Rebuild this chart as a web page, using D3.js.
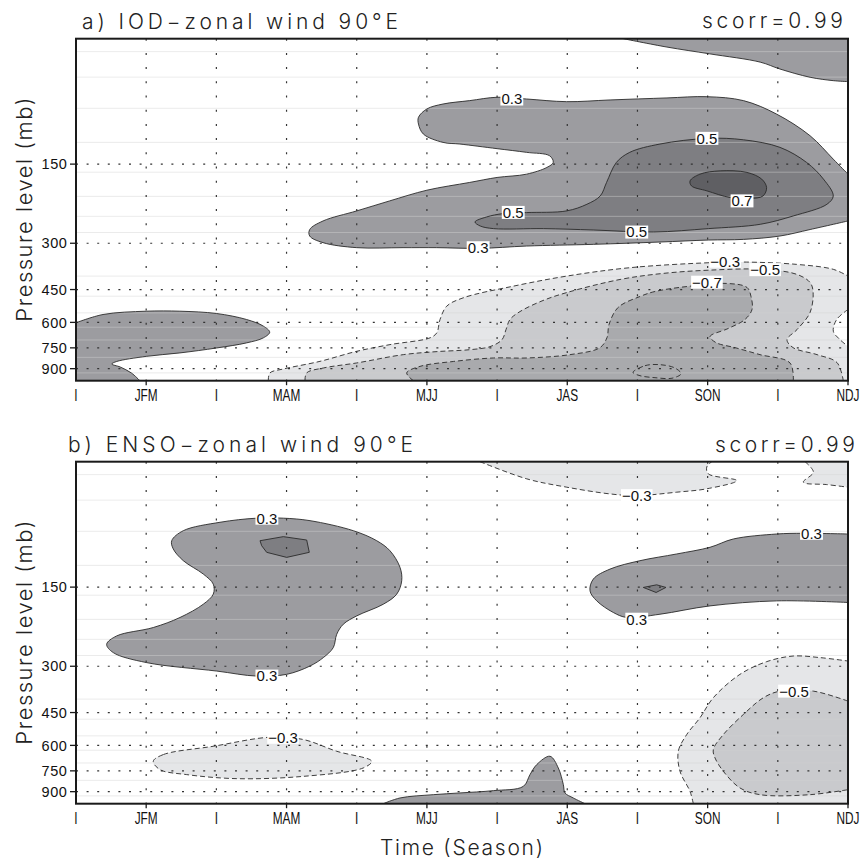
<!DOCTYPE html>
<html><head><meta charset="utf-8">
<script src="https://cdn.jsdelivr.net/npm/d3@7"></script>
<style>body{margin:0;background:#fff}</style>
</head><body>
<svg id="chart" width="865" height="862"></svg>
<script>
// ================= DATA =================
// x: season index (0 = DJF ... 11 = NDJ), y: pressure (mb)
const seasonLabels = ["I","JFM","I","MAM","I","MJJ","I","JAS","I","SON","I","NDJ"];
const pressureTicks = [150, 300, 450, 600, 750, 900];
const seamLevels = [56, 70, 92, 124, 161, 199, 237, 273, 400, 477, 552, 626, 700, 815, 934];

// ---- Panel a: IOD ----
const a_pos03_top = [[7.80,50],[8.42,53.8],[9.03,57.1],[9.75,61.4],[10.03,65.2],[10.46,70.1],[10.79,72.2],[11,72.8]];
const a_pos03_main = [[11,246.8],[10.46,266],[10.03,281.6],[9.51,290],[9.01,291.7],[8.32,296.8],[7.37,302.9],[6.42,307.4],[5.76,313.7],[5.14,311.8],[4.66,311.8],[4.0,311.8],[3.52,298.4],[3.33,281.6],[3.33,266],[3.52,246.8],[4.0,226],[4.47,207],[5.0,188.5],[5.61,176.1],[6.0,168.6],[6.42,163.8],[6.71,154.4],[6.80,147.8],[6.75,139.5],[6.42,135.3],[6.0,131],[5.47,125.8],[5.23,124],[4.95,115.3],[4.88,105.6],[4.88,99.5],[5.0,92.5],[5.23,88.6],[5.61,86.0],[6.0,83.5],[6.42,84.8],[6.99,86.8],[7.61,85.5],[8.42,84.0],[8.99,83.1],[9.51,86.0],[9.98,96.7],[10.46,117],[10.79,143.6],[11,163.8]];
const a_pos05 = [[5.685,249],[5.85,238.3],[6.09,231.3],[6.42,229.3],[6.99,226],[7.28,213.2],[7.47,198.2],[7.56,176.1],[7.70,147.8],[7.89,135.3],[8.32,125.8],[9.01,119.7],[9.51,121.2],[10.03,129.5],[10.41,147.8],[10.65,171],[10.79,198.2],[10.70,213.2],[10.22,236.2],[9.75,254.1],[9.01,263.9],[8.23,271.9],[7.37,267.1],[6.66,263.9],[5.95,263.9],[5.76,257.9]];
const a_pos07 = [[8.75,173.7],[8.89,163.8],[9.18,159.1],[9.56,161.3],[9.77,171],[9.84,184.1],[9.79,198.2],[9.60,202.7],[9.32,201],[8.99,189.6],[8.77,181.5]];
const a_pos03_low = [[0,602],[0.385,560],[1.0,544],[1.48,544],[2.0,555],[2.43,585],[2.67,620],[2.76,654],[2.67,687],[2.43,718],[2.0,751],[1.48,784],[1.0,808],[0.58,845],[0.51,864],[0.63,887],[0.79,935],[0.91,1000]];
const a_neg03 = [[2.74,1000],[2.764,934],[2.954,902.5],[3.477,844],[4.0,773],[4.474,729],[5.044,687],[5.14,658],[5.187,585],[5.282,520.7],[5.519,483.7],[6.231,436.9],[6.992,400],[7.894,371.6],[9.034,355.7],[9.557,353.8],[10.269,361],[10.791,377],[11,400]];
const a_neg03_pocket = [[11,536],[10.839,585],[10.791,648.6],[10.886,698],[11,740]];
const a_neg05 = [[3.263,1000],[3.287,934],[3.524,894.6],[4.0,856],[4.664,795.9],[5.144,775],[5.614,762],[5.899,742],[6.07,698],[6.127,639],[6.184,585],[6.327,545.6],[6.654,495.4],[6.996,461.8],[7.752,412],[8.365,390.7],[9.034,379.6],[9.789,377],[10.274,394.2],[10.459,422.9],[10.502,457.7],[10.459,550.4],[10.274,639],[10.131,698],[10.217,748.5],[10.559,795.9],[10.844,853.8],[10.933,1000]];
const a_neg07 = [[4.806,1000],[4.712,934],[4.902,882],[5.376,845],[5.946,819.5],[6.422,819.5],[7.039,795.9],[7.466,748.5],[7.566,685.6],[7.595,611.6],[7.723,526.7],[8.036,478.2],[8.25,457.7],[8.749,436.9],[9.276,426.6],[9.561,441.9],[9.618,478.2],[9.632,536],[9.532,585],[9.29,633.5],[9.034,679.5],[9.119,716.3],[9.39,748.5],[9.746,795.9],[10.174,856],[10.221,1000]];
const a_neg09 = [[7.937,929.9],[8.107,876.8],[8.321,869],[8.535,895],[8.621,940.6],[8.493,978.5],[8.25,974],[8.036,957]];
const a_labels = [["−0.5",9.82,378],["−0.3",9.25,351],["−0.7",8.99,422],["0.3",6.21,84.8],["0.5",8.99,119.7],["0.7",9.49,207],["0.5",6.23,229],["0.5",7.99,272],["0.3",5.73,312]];

// ---- Panel b: ENSO ----
const b_pos03_left = [[2.575,82.0],[2.052,85.0],[1.529,91.5],[1.364,99.9],[1.386,107.4],[1.529,119],[1.814,133.8],[1.956,146.1],[1.956,159.5],[1.814,174.2],[1.482,195.7],[1.101,213.7],[0.58,230],[0.437,247.5],[0.531,266.2],[1.007,290.6],[2.005,312.9],[2.575,327],[3.002,322],[3.334,299.4],[3.524,278.1],[3.666,254.7],[3.715,226.7],[3.809,207.6],[4.0,193],[4.379,174.2],[4.57,159.5],[4.641,141.9],[4.617,126.2],[4.474,109.1],[4.285,99.9],[3.951,91.5],[3.334,83.8],[2.954,82.0]];
const b_pos05_left = [[2.622,99.9],[2.954,96.4],[3.287,99.3],[3.324,110.6],[3.002,115.6],[2.717,110.6],[2.646,104.4]];
const b_neg03_left = [[1.101,689.7],[1.244,650.3],[1.956,604.7],[2.764,558.7],[3.239,570],[3.715,631.8],[4.213,689.7],[4.094,731],[3.239,787],[2.29,803],[1.577,775],[1.197,742]];
const b_pos03_bottom = [[4.379,1000],[4.617,951],[5.091,924],[5.472,910],[5.946,892],[6.374,859],[6.469,775],[6.565,710],[6.754,660],[6.872,731],[6.944,846],[6.968,910],[7.086,951],[7.253,1000]];
const b_neg03_top = [[5.757,50],[6.422,58.1],[6.992,62.5],[7.609,66.3],[7.989,67.3],[8.559,65.3],[8.987,63.4],[9.415,59.0],[9.01,55.6],[8.987,52.4],[9.058,50]];
const b_neg03_topright = [[10.388,50],[10.507,54.8],[10.364,59.8],[10.697,61.1],[11,62.5]];
const b_pos03_right = [[11,94.2],[10.364,93.6],[9.984,94.2],[9.366,98.4],[9.034,105.8],[8.559,112.2],[8.036,119],[7.609,128.1],[7.371,139.8],[7.324,155],[7.42,169.2],[7.656,187.3],[7.847,195.7],[8.321,190.2],[9.034,176.8],[9.984,169.2],[11,171.6]];
const b_pos05_right = [[8.083,150.4],[8.274,147],[8.406,150.4],[8.266,157.2]];
const b_neg03_right = [[8.796,1000],[8.749,897.8],[8.606,753],[8.582,631.8],[8.702,545.6],[8.891,471.1],[9.081,395.2],[9.461,322],[9.842,288.1],[10.221,274.3],[10.601,278.1],[11,286.6]];
const b_neg05_right = [[11,407.2],[10.506,373],[10.031,373],[9.794,395.2],[9.509,457.7],[9.224,545.6],[9.081,622.4],[9.105,669.5],[9.224,753],[9.461,871.3],[9.746,924],[10.459,924],[11,884.4]];
const b_labels = [["0.3",2.72,82],["0.3",2.72,327],["−0.3",2.95,559],["−0.3",7.99,67.3],["0.3",10.48,93.6],["0.3",7.99,198.7],["−0.5",10.23,373]];

// ================= RENDER =================
const fillColor = {"0.3":"#9c9ca0","0.5":"#7e7e82","0.7":"#5f5f63","-0.3":"#e5e6e8","-0.5":"#c9cacd","-0.7":"#a9aaad","-0.9":"none"};
const X0 = 76, X1 = 848, PH = 342;
const titleFont = "Inter, 'DejaVu Sans', sans-serif";
const svg = d3.select("#chart");

const panels = [
  { id:"a", top:38.7, title:"a) IOD−zonal wind 90°E", tx:82, tw:316, tb:28.5, sx:702, sw:141, sb:28,
    regions:[
      {lv:0.3, pieces:[{c:a_pos03_top},{l:[[11,50]]}]},
      {lv:0.3, pieces:[{c:a_pos03_main}]},
      {lv:0.3, pieces:[{c:a_pos03_low},{l:[[0,1000]]}]},
      {lv:0.5, closed:a_pos05},
      {lv:0.7, closed:a_pos07},
      {lv:-0.3, pieces:[{c:a_neg03},{l:[[11,536]]},{c:a_neg03_pocket},{l:[[11,1000]]}]},
      {lv:-0.5, pieces:[{c:a_neg05}]},
      {lv:-0.7, pieces:[{c:a_neg07}]},
      {lv:-0.9, closed:a_neg09}
    ], labels:a_labels },
  { id:"b", top:461.7, title:"b) ENSO−zonal wind 90°E", tx:68, tw:345, tb:452, sx:715, sw:140, sb:451.5,
    regions:[
      {lv:0.3, closed:b_pos03_left},
      {lv:0.3, pieces:[{c:b_pos03_bottom}]},
      {lv:0.3, pieces:[{c:b_pos03_right}]},
      {lv:0.5, closed:b_pos05_left, linear:true},
      {lv:0.5, closed:b_pos05_right, linear:true},
      {lv:-0.3, pieces:[{c:b_neg03_top}]},
      {lv:-0.3, pieces:[{c:b_neg03_topright},{l:[[11,50]]}]},
      {lv:-0.3, closed:b_neg03_left},
      {lv:-0.3, pieces:[{c:b_neg03_right},{l:[[11,1000]]}]},
      {lv:-0.5, pieces:[{c:b_neg05_right}]}
    ], labels:b_labels }
];

const defs = svg.append("defs");

panels.forEach(cfg => {
  const top = cfg.top, bottom = top + PH;
  const x = d3.scaleLinear().domain([0, 11]).range([X0, X1]);
  const y = d3.scaleLog().domain([1000, 50]).range([bottom, top]);
  const clipId = "clip" + cfg.id;
  defs.append("clipPath").attr("id", clipId).append("rect")
    .attr("x", X0).attr("y", top).attr("width", X1 - X0).attr("height", PH);
  const g = svg.append("g");
  const plot = g.append("g").attr("clip-path", `url(#${clipId})`);

  const openLine = d3.line().x(d => x(d[0])).y(d => y(d[1])).curve(d3.curveCatmullRom.alpha(0.5));
  const closedLine = d3.line().x(d => x(d[0])).y(d => y(d[1])).curve(d3.curveCatmullRomClosed.alpha(0.5));
  const linClosed = d3.line().x(d => x(d[0])).y(d => y(d[1])).curve(d3.curveLinearClosed);

  function fillPath(r) {
    if (r.closed) return (r.linear ? linClosed : closedLine)(r.closed);
    let s = "";
    r.pieces.forEach((pc, i) => {
      if (pc.c) { let p = openLine(pc.c); if (i > 0) p = "L" + p.slice(1); s += p; }
      else s += pc.l.map((d, j) => ((i === 0 && j === 0) ? "M" : "L") + x(d[0]) + "," + y(d[1])).join("");
    });
    return s + "Z";
  }

  const order = cfg.regions.slice().sort((a, b) => Math.abs(a.lv) - Math.abs(b.lv));
  order.forEach(r => {
    const fc = fillColor[String(r.lv)];
    if (fc === "none") return;
    plot.append("path").attr("d", fillPath(r)).attr("fill", fc).attr("stroke", "none");
  });

  plot.selectAll(".seam").data(seamLevels).enter().append("line")
    .attr("x1", X0).attr("x2", X1).attr("y1", d => y(d)).attr("y2", d => y(d))
    .attr("stroke", "#d2d2d2").attr("stroke-opacity", 0.45).attr("stroke-width", 1);

  plot.selectAll(".vg").data(d3.range(1, 11)).enter().append("line")
    .attr("x1", d => x(d)).attr("x2", d => x(d)).attr("y1", top).attr("y2", bottom)
    .attr("stroke", "#333").attr("stroke-width", 1.2).attr("stroke-dasharray", "2,12.2");
  plot.selectAll(".hg").data(pressureTicks).enter().append("line")
    .attr("x1", X0).attr("x2", X1).attr("y1", d => y(d)).attr("y2", d => y(d))
    .attr("stroke", "#333").attr("stroke-width", 1.2).attr("stroke-dasharray", "2,8.6");

  cfg.regions.forEach(r => {
    const dash = r.lv < 0 ? "5,3" : null;
    const add = d => plot.append("path").attr("d", d).attr("fill", "none")
      .attr("stroke", "#2a2a2a").attr("stroke-width", 0.9).attr("stroke-dasharray", dash);
    if (r.closed) add(fillPath(r));
    else r.pieces.forEach(pc => { if (pc.c) add(openLine(pc.c)); });
  });

  const lg = g.append("g");
  cfg.labels.forEach(([t, m, p]) => {
    const gg = lg.append("g");
    const rect = gg.append("rect").attr("fill", "#fff");
    const tx = gg.append("text").attr("x", x(m)).attr("y", y(p)).attr("dy", "0.36em")
      .attr("text-anchor", "middle").attr("font-family", "Liberation Sans, Arial, sans-serif")
      .attr("font-size", 15).attr("fill", "#111").text(t);
    const bb = tx.node().getBBox();
    rect.attr("x", bb.x - 1).attr("y", y(p) - 6.5).attr("width", bb.width + 2).attr("height", 13);
  });

  g.append("rect").attr("x", X0).attr("y", top).attr("width", X1 - X0).attr("height", PH)
    .attr("fill", "none").attr("stroke", "#1a1a1a").attr("stroke-width", 2);

  pressureTicks.forEach(p => {
    g.append("line").attr("x1", X0 - 6).attr("x2", X0).attr("y1", y(p)).attr("y2", y(p))
      .attr("stroke", "#1a1a1a").attr("stroke-width", 1.3);
    g.append("text").attr("x", X0 - 8.5).attr("y", y(p)).attr("dy", "0.36em").attr("text-anchor", "end")
      .attr("font-family", "Liberation Sans, Arial, sans-serif").attr("font-size", 14.5)
      .attr("letter-spacing", 0.6).attr("fill", "#111").text(p);
  });

  seasonLabels.forEach((s, i) => {
    if (s !== "I") g.append("line").attr("x1", x(i)).attr("x2", x(i)).attr("y1", bottom).attr("y2", bottom + 4.5)
      .attr("stroke", "#1a1a1a").attr("stroke-width", 1.3);
    g.append("text").attr("transform", `translate(${x(i)},${bottom + 19.8}) scale(0.74,1)`)
      .attr("text-anchor", "middle").attr("font-family", "Liberation Sans, Arial, sans-serif")
      .attr("font-size", 16).attr("fill", "#111").text(s);
  });

  g.append("text").attr("x", cfg.tx).attr("y", cfg.tb).attr("textLength", cfg.tw).attr("lengthAdjust", "spacing")
    .attr("font-family", titleFont).attr("font-weight", 300).attr("font-size", 21).attr("fill", "#222").text(cfg.title);
  g.append("text").attr("x", cfg.sx).attr("y", cfg.sb).attr("textLength", cfg.sw).attr("lengthAdjust", "spacing")
    .attr("font-family", titleFont).attr("font-weight", 300).attr("font-size", 21).attr("fill", "#222").text("scorr=0.99");

  const cy = (top + bottom) / 2;
  g.append("text").attr("transform", `translate(32,${cy}) rotate(-90)`).attr("text-anchor", "middle")
    .attr("textLength", 224).attr("lengthAdjust", "spacing")
    .attr("font-family", titleFont).attr("font-weight", 300).attr("font-size", 22).attr("fill", "#222")
    .text("Pressure level (mb)");
});

svg.append("text").attr("x", 380).attr("y", 855).attr("textLength", 163).attr("lengthAdjust", "spacing")
  .attr("font-family", titleFont).attr("font-weight", 300).attr("font-size", 21).attr("fill", "#222").text("Time (Season)");
</script>
</body></html>
